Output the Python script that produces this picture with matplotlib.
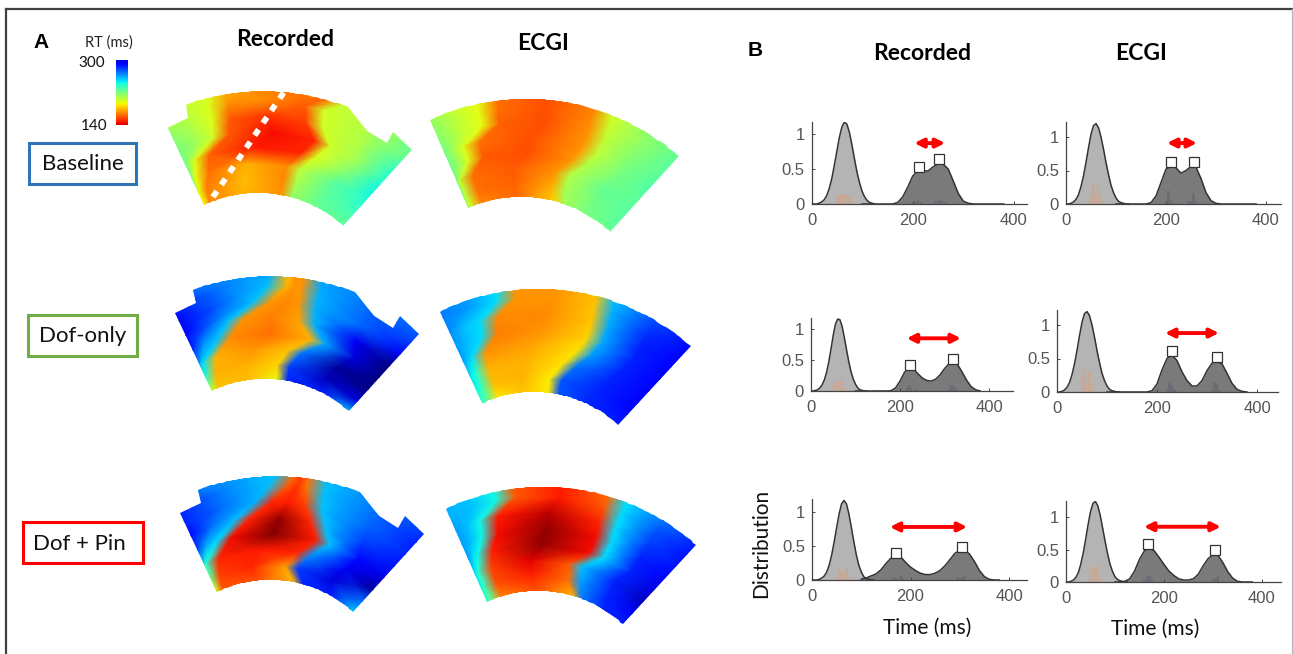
import numpy as np
import matplotlib
matplotlib.use("Agg")
import matplotlib.pyplot as plt
from matplotlib.colors import Normalize
from matplotlib.patches import Polygon, Rectangle

W, H = 1293, 654
FONT = ["Lato", "DejaVu Sans"]
ARIAL = ["Liberation Sans", "DejaVu Sans"]

# ---------- panel A: repolarization time (ms), rows run outer -> inner.
# Per row: angle (deg) of the left and right edge of the early band, and RT at
# [left border, mid left, outside left edge, inside left edge, band centre,
#  inside right edge, outside right edge, mid right, right border]
EDGE_L_BASE_REC = [-10.5, -10.5, -10.5, -11.5, -19, -21, -24, -25]
EDGE_R_BASE_REC = [20.5, 15, 16, 20, 17, 13, 13, 13]
RT_BASE_REC = [
    [205, 205, 198, 178, 168, 165, 203, 208, 225],
    [210, 205, 198, 172, 170, 160, 200, 208, 225],
    [215, 208, 198, 160, 152, 155, 200, 208, 235],
    [220, 212, 200, 160, 145, 150, 200, 212, 240],
    [222, 210, 198, 162, 148, 150, 198, 218, 245],
    [218, 205, 195, 165, 178, 170, 205, 228, 240],
    [212, 200, 195, 168, 180, 170, 210, 228, 232],
    [205, 195, 190, 170, 178, 172, 215, 226, 225],
]
EDGE_L_BASE_ECGI = [-8.5, -8.5, -8.5, -15, -15, -20, -20, -20]
EDGE_R_BASE_ECGI = [20.5, 21, 21.5, 21, 19, 15, 15, 17]
RT_BASE_ECGI = [
    [212, 200, 196, 165, 158, 168, 200, 215, 225],
    [215, 205, 196, 165, 158, 170, 202, 215, 228],
    [218, 205, 196, 162, 158, 172, 205, 218, 228],
    [222, 210, 198, 165, 158, 172, 205, 220, 230],
    [222, 212, 198, 160, 158, 172, 208, 222, 228],
    [222, 210, 205, 165, 160, 172, 208, 225, 228],
    [220, 212, 205, 165, 162, 178, 210, 222, 228],
    [215, 205, 200, 170, 165, 185, 212, 222, 225],
]
EDGE_L_DOF_REC = [3.5, 3, -1, -9, -14, -21, -23, -24.5]
EDGE_R_DOF_REC = [12, 12, 12, 13, 18, 11, 7.5, 8]
RT_DOF_REC = [
    [268, 265, 262, 180, 172, 172, 262, 268, 272],
    [285, 270, 255, 178, 172, 172, 258, 272, 280],
    [292, 275, 255, 172, 170, 172, 258, 272, 295],
    [292, 275, 255, 172, 168, 175, 258, 295, 315],
    [285, 262, 255, 170, 165, 178, 260, 300, 315],
    [265, 255, 250, 178, 172, 182, 270, 310, 315],
    [240, 235, 240, 178, 178, 185, 280, 305, 300],
    [200, 198, 195, 182, 180, 195, 285, 285, 252],
]
EDGE_L_DOF_ECGI = [-7, -7.5, -13, -14, -19, -19.5, -19.5, -19.5]
EDGE_R_DOF_ECGI = [18, 18.5, 19, 19, 17, 13, 9, 9]
RT_DOF_ECGI = [
    [268, 262, 250, 172, 172, 180, 255, 275, 290],
    [268, 262, 250, 172, 172, 182, 258, 282, 292],
    [265, 255, 250, 170, 170, 182, 260, 285, 292],
    [262, 255, 250, 168, 172, 185, 260, 285, 292],
    [262, 255, 250, 172, 175, 188, 262, 285, 292],
    [250, 245, 240, 178, 178, 188, 270, 285, 292],
    [245, 240, 235, 180, 178, 190, 275, 285, 290],
    [235, 230, 225, 190, 182, 190, 275, 285, 285],
]
EDGE_L_PIN_REC = [4.5, 2, -2, -9, -16, -22, -24, -25]
EDGE_R_PIN_REC = [12, 12, 12.5, 15, 18, 13, 9, 14]
RT_PIN_REC = [
    [262, 262, 255, 165, 155, 165, 255, 268, 280],
    [285, 268, 255, 160, 152, 165, 255, 270, 285],
    [285, 272, 258, 150, 148, 155, 255, 272, 285],
    [290, 270, 255, 150, 128, 150, 255, 280, 288],
    [280, 258, 250, 145, 125, 148, 255, 290, 298],
    [250, 240, 240, 150, 148, 150, 265, 295, 310],
    [220, 215, 225, 155, 150, 175, 280, 300, 270],
    [195, 190, 190, 160, 160, 180, 285, 285, 250],
]
EDGE_L_PIN_ECGI = [-9, -8.5, -14, -15, -18, -20, -20, -19.5]
EDGE_R_PIN_ECGI = [20, 20, 20, 20.5, 20, 14, 15, 19]
RT_PIN_ECGI = [
    [258, 252, 245, 160, 148, 165, 250, 268, 285],
    [258, 255, 245, 160, 148, 160, 250, 275, 288],
    [262, 255, 245, 148, 135, 150, 250, 280, 288],
    [262, 255, 245, 145, 128, 145, 250, 285, 292],
    [262, 250, 245, 148, 128, 145, 250, 285, 298],
    [250, 245, 240, 155, 142, 160, 255, 285, 305],
    [245, 240, 235, 158, 150, 165, 262, 285, 295],
    [235, 230, 225, 170, 160, 180, 270, 285, 285],
]

# ---------- panel B: distributions
T_EARLY = np.arange(0, 130, 5)
T_LATE = np.arange(100, 390, 10)

EARLY_BASE_REC = [0, 0, 0, .01, .03, .06, .12, .22, .36, .55, .75, .95, 1.1, 1.17, 1.14, 1.02, .84, .64, .45, .3, .18, .1, .05, .02, .01, 0]
LATE_BASE_REC = [0, 0, 0, 0, 0, 0, 0, .02, .1, .24, .4, .47, .48, .47, .53, .57, .57, .5, .33, .15, .04, .01, 0, 0, 0, 0, 0, 0, 0]
EARLY_BASE_ECGI = [0, 0, .01, .03, .07, .14, .26, .42, .62, .84, 1.04, 1.17, 1.2, 1.14, 1.0, .82, .62, .44, .28, .17, .09, .04, .02, .01, 0, 0]
LATE_BASE_ECGI = [0, 0, 0, 0, 0, 0, 0, .02, .12, .32, .52, .56, .54, .46, .5, .56, .55, .38, .17, .05, .01, 0, 0, 0, 0, 0, 0, 0, 0]
EARLY_DOF_REC = [0, 0, .01, .02, .05, .1, .18, .3, .47, .68, .9, 1.08, 1.16, 1.15, 1.04, .86, .66, .47, .31, .19, .11, .05, .02, .01, 0, 0]
LATE_DOF_REC = [0, 0, 0, 0, 0, 0, 0, 0, .005, .05, .16, .3, .37, .36, .28, .21, .17, .16, .19, .26, .36, .44, .46, .42, .3, .17, .07, .02, 0]
EARLY_DOF_ECGI = [0, 0, .01, .03, .07, .14, .26, .42, .62, .84, 1.04, 1.17, 1.2, 1.14, 1.0, .82, .62, .44, .28, .17, .09, .04, .02, .01, 0, 0]
LATE_DOF_ECGI = [0, 0, 0, 0, 0, 0, 0, 0, 0, .02, .12, .33, .5, .55, .47, .3, .17, .09, .09, .17, .32, .43, .46, .42, .28, .13, .04, .01, 0]
EARLY_PIN_REC = [0, 0, 0, .01, .03, .06, .12, .22, .37, .56, .77, .97, 1.12, 1.17, 1.12, .97, .77, .56, .37, .22, .12, .05, .02, .01, 0, 0]
LATE_PIN_REC = [.01, .03, .06, .09, .15, .24, .32, .35, .34, .26, .19, .14, .1, .08, .08, .1, .14, .21, .3, .39, .44, .44, .38, .27, .14, .05, .01, 0, 0]
EARLY_PIN_ECGI = [0, 0, .01, .03, .07, .14, .27, .44, .65, .88, 1.08, 1.21, 1.24, 1.17, 1.02, .82, .62, .43, .27, .16, .08, .04, .02, .01, 0, 0]
LATE_PIN_ECGI = [0, 0, .01, .05, .17, .35, .48, .52, .48, .38, .27, .17, .1, .05, .03, .03, .05, .12, .25, .36, .42, .41, .3, .16, .06, .01, 0, 0, 0]

BAR_T_EARLY = [50, 55, 60, 65, 70, 75, 80]
BARS_BASE_REC = [.1, .13, .15, .15, .14, .1, .04]
BARS_BASE_ECGI = [.14, .32, .12, .25, .1, .05, 0]
BARS_DOF_REC = [.1, .14, .16, .14, .18, .05, .02]
BARS_DOF_ECGI = [.22, .33, .1, .3, .12, .03, 0]
BARS_PIN_REC = [.05, .17, .13, .1, .19, .05, .01]
BARS_PIN_ECGI = [.18, .26, .22, .28, .05, 0, 0]

LBAR_T_BASE_REC = [200, 205, 210, 215, 245, 250, 255, 260, 265]
LBAR_V_BASE_REC = [.03, .05, .07, .03, .04, .05, .06, .05, .03]
LBAR_T_BASE_ECGI = [200, 205, 210, 215, 245, 250, 255, 260]
LBAR_V_BASE_ECGI = [.03, .2, .06, .02, .05, .04, .16, .05]
LBAR_T_DOF_REC = [215, 220, 225, 235, 310, 315, 320, 325]
LBAR_V_DOF_REC = [.05, .1, .05, .04, .04, .1, .08, .05]
LBAR_T_DOF_ECGI = [220, 225, 230, 235, 310, 315, 320, 325]
LBAR_V_DOF_ECGI = [.04, .14, .1, .05, .03, .15, .12, .03]
LBAR_T_PIN_REC = [165, 170, 180, 185, 295, 300, 305, 310]
LBAR_V_PIN_REC = [.05, .03, .06, .03, .05, .03, .05, .06]
LBAR_T_PIN_ECGI = [160, 165, 170, 175, 300, 305, 310]
LBAR_V_PIN_ECGI = [.04, .11, .1, .04, .04, .06, .1]

MARK_T_BASE_REC, MARK_V_BASE_REC = [212, 252], [.53, .64]
MARK_T_BASE_ECGI, MARK_V_BASE_ECGI = [210, 256], [.63, .63]
MARK_T_DOF_REC, MARK_V_DOF_REC = [222, 319], [.42, .52]
MARK_T_DOF_ECGI, MARK_V_DOF_ECGI = [230, 320], [.61, .52]
MARK_T_PIN_REC, MARK_V_PIN_REC = [170, 305], [.40, .485]
MARK_T_PIN_ECGI, MARK_V_PIN_ECGI = [168, 304], [.58, .49]

XTICKS = [0, 200, 400]
YTICKS = [0, 0.5, 1]
YTICKLABELS = ["0", "0.5", "1"]

# ---------- map outline of the recorded maps (deg, px radius)
REC_OUTLINE_T = [-25.3, -19.0, -18.6, 23.0, 30.0, 36.0, 35.7, 42.2]
REC_OUTLINE_R = [212, 213.5, 227, 231, 218, 219, 232, 230]

fig = plt.figure(figsize=(W / 100, H / 100), dpi=100)
bg = fig.add_axes([0, 0, 1, 1])
bg.set_xlim(0, W)
bg.set_ylim(H, 0)
bg.axis("off")

cmap = plt.get_cmap("jet_r")
norm = Normalize(125, 315)
EDGE_HALF = 2.5


def draw_map(values, edge_l, edge_r, cx, cy, t0, t1, r0, r1, recorded):
    vals = np.array(values, float)
    nr, nc = vals.shape
    rr = np.linspace(r1 + 4, r0 - 2, nr)
    TH = np.zeros_like(vals)
    for i in range(nr):
        L, Rt = edge_l[i], edge_r[i]
        out_l = max(L - EDGE_HALF, t0 + 0.2)
        out_r = Rt + EDGE_HALF
        TH[i] = [t0, (t0 + out_l) / 2, out_l, L + EDGE_HALF, (L + Rt) / 2, Rt - EDGE_HALF,
                 out_r, (out_r + t1) / 2, t1]
    RR = np.repeat(rr[:, None], nc, axis=1)
    T = np.radians(TH)
    X = cx + RR * np.sin(T)
    Y = cy - RR * np.cos(T)
    mesh = bg.pcolormesh(X, Y, vals, cmap=cmap, norm=norm, shading="gouraud")
    arc = np.linspace(t0, t1, 80)
    if recorded:
        dr = r1 - 231
        ot = list(REC_OUTLINE_T[:3])
        orr = [q + dr for q in REC_OUTLINE_R[:3]]
        span = np.linspace(REC_OUTLINE_T[2], REC_OUTLINE_T[3], 60)[1:]
        ot += list(span)
        orr += list(np.interp(span, REC_OUTLINE_T[2:4], REC_OUTLINE_R[2:4]) + dr)
        ot += REC_OUTLINE_T[4:]
        orr += [q + dr for q in REC_OUTLINE_R[4:]]
    else:
        ot = list(arc)
        orr = list(np.interp(arc, [t0, t1], [r1 - 5, r1 + 1]))
    ot = np.radians(np.r_[ot, arc[::-1]])
    orr = np.r_[orr, np.full(arc.size, r0)]
    poly = Polygon(np.c_[cx + orr * np.sin(ot), cy - orr * np.cos(ot)],
                   closed=True, fc="none", ec="none", transform=bg.transData)
    bg.add_patch(poly)
    mesh.set_clip_path(poly)


draw_map(RT_BASE_REC, EDGE_L_BASE_REC, EDGE_R_BASE_REC, 258, 320, -25, 42, 127, 231, True)
draw_map(RT_BASE_ECGI, EDGE_L_BASE_ECGI, EDGE_R_BASE_ECGI, 521, 329, -23.5, 42.4, 132, 233, False)
draw_map(RT_DOF_REC, EDGE_L_DOF_REC, EDGE_R_DOF_REC, 265, 504, -25.3, 42.2, 125, 230, True)
draw_map(RT_DOF_ECGI, EDGE_L_DOF_ECGI, EDGE_R_DOF_ECGI, 534, 516, -24.7, 42.7, 124, 230, False)
draw_map(RT_PIN_REC, EDGE_L_PIN_REC, EDGE_R_PIN_REC, 270, 704, -25.5, 42.3, 124, 230, True)
draw_map(RT_PIN_ECGI, EDGE_L_PIN_ECGI, EDGE_R_PIN_ECGI, 538, 716, -24, 42.7, 125, 232, False)

# white dotted cut line on the first map
bg.plot([213, 284], [197, 92], color="white", lw=4.2, ls=(0, (1.2, 1.35)), zorder=5)

# colour bar
bar = np.linspace(300, 140, 120)[:, None]
bg.imshow(bar, cmap=cmap, norm=norm, extent=[116, 128, 125, 60], aspect="auto", zorder=3)
bg.set_xlim(0, W)
bg.set_ylim(H, 0)

# outer frame
bg.plot([6, 6], [654, 9], color="#404040", lw=1.6)
bg.plot([6, 1292], [9, 9], color="#404040", lw=1.6)
bg.plot([1292, 1292], [9, 654], color="#b5b5b5", lw=0.9)

# condition boxes
for (x0, y0, x1, y1, col, lab, tx) in [(29, 143, 136, 184, "#2E75B6", "Baseline", 82.5),
                                       (28, 315, 137, 356, "#70AD47", "Dof-only", 83),
                                       (23, 522, 143, 563, "#FF0000", "Dof + Pin", 79)]:
    bg.add_patch(Rectangle((x0, y0), x1 - x0, y1 - y0, fc="white", ec=col, lw=2.2, zorder=4))
    bg.text(tx, (y0 + y1) / 2 + 1, lab, ha="center", va="center", family=FONT,
            fontsize=16, color="#111111", zorder=5)

bg.text(41, 42, "A", ha="center", va="center", family=ARIAL, fontweight="bold", fontsize=15)
bg.text(755, 50, "B", ha="center", va="center", family=ARIAL, fontweight="bold", fontsize=15)
bg.text(109, 43, "RT (ms)", ha="center", va="center", family=FONT, fontsize=10.5, color="#222222")
bg.text(92, 63, "300", ha="center", va="center", family=FONT, fontsize=11, color="#111111")
bg.text(94, 126, "140", ha="center", va="center", family=FONT, fontsize=11, color="#111111")
for x, y, lab in [(285, 39, "Recorded"), (543, 44, "ECGI"), (922, 54, "Recorded"), (1141, 53, "ECGI")]:
    bg.text(x, y, lab, ha="center", va="center", family=FONT, fontweight="bold", fontsize=16.5)
bg.text(761, 543, "Distribution", rotation=90, ha="center", va="center", family=FONT, fontsize=15, color="#111111")
bg.text(927, 628, "Time (ms)", ha="center", va="center", family=FONT, fontsize=15, color="#111111")
bg.text(1155, 629, "Time (ms)", ha="center", va="center", family=FONT, fontsize=15, color="#111111")


def draw_panel(x0, x400, xend, y0, y1, ytop, early, late, bars, lbt, lbv, mt, mv, arrow):
    sx = (x400 - x0) / 400
    sy = y0 - y1
    ax = fig.add_axes([x0 / W, 1 - y0 / H, (xend - x0) / W, (y0 - ytop) / H])
    ax.patch.set_alpha(0)
    ax.set_xlim(0, (xend - x0) / sx)
    ax.set_ylim(0, (y0 - ytop) / sy)
    for s in ("top", "right"):
        ax.spines[s].set_visible(False)
    for s in ("left", "bottom"):
        ax.spines[s].set_color("#444444")
        ax.spines[s].set_linewidth(0.9)
    ax.fill_between(T_EARLY, early, color="#b4b4b4", lw=0, zorder=1)
    ax.fill_between(T_LATE, late, color="#7a7a7a", lw=0, zorder=1.5)
    ax.bar(BAR_T_EARLY, bars, width=5, color="#d79f80", alpha=0.5, lw=0, zorder=2)
    ax.bar(lbt, lbv, width=5, color="#66586f", alpha=0.45, lw=0, zorder=2)
    ax.plot(T_EARLY, early, color="#333333", lw=1.1, zorder=3)
    ax.plot(T_LATE, late, color="#333333", lw=1.1, zorder=3)
    ax.plot(mt, mv, ls="none", marker="s", ms=7.6, mfc="white", mec="#333333", mew=0.9, zorder=4, clip_on=False)
    ax.annotate("", xy=(arrow[0], arrow[2]), xytext=(arrow[1], arrow[2]), zorder=5, annotation_clip=False,
                arrowprops=dict(arrowstyle="<|-|>", color="#FF0000", lw=2.8, mutation_scale=13,
                                shrinkA=0, shrinkB=0))
    ax.set_xticks(XTICKS)
    ax.set_yticks(YTICKS)
    ax.set_yticklabels(YTICKLABELS)
    ax.tick_params(axis="both", direction="in", length=2.5, width=0.7, color="#444444",
                   labelcolor="#555555", labelsize=12)
    ax.tick_params(axis="x", pad=6.5)
    ax.tick_params(axis="y", pad=5)
    for t in ax.get_xticklabels() + ax.get_yticklabels():
        t.set_fontfamily(ARIAL)


draw_panel(811.5, 1014, 1027, 204, 134, 122, EARLY_BASE_REC, LATE_BASE_REC, BARS_BASE_REC,
           LBAR_T_BASE_REC, LBAR_V_BASE_REC, MARK_T_BASE_REC, MARK_V_BASE_REC, (203, 264, .87))
draw_panel(1066, 1266, 1281, 204, 137, 122, EARLY_BASE_ECGI, LATE_BASE_ECGI, BARS_BASE_ECGI,
           LBAR_T_BASE_ECGI, LBAR_V_BASE_ECGI, MARK_T_BASE_ECGI, MARK_V_BASE_ECGI, (202, 262, .91))
draw_panel(811, 989, 1013, 391, 329, 318, EARLY_DOF_REC, LATE_DOF_REC, BARS_DOF_REC,
           LBAR_T_DOF_REC, LBAR_V_DOF_REC, MARK_T_DOF_REC, MARK_V_DOF_REC, (215, 337, .85))
draw_panel(1057, 1257, 1278, 392, 325, 310, EARLY_DOF_ECGI, LATE_DOF_ECGI, BARS_DOF_ECGI,
           LBAR_T_DOF_ECGI, LBAR_V_DOF_ECGI, MARK_T_DOF_ECGI, MARK_V_DOF_ECGI, (216, 324, .88))
draw_panel(812, 1009, 1027, 580, 512, 499, EARLY_PIN_REC, LATE_PIN_REC, BARS_PIN_REC,
           LBAR_T_PIN_REC, LBAR_V_PIN_REC, MARK_T_PIN_REC, MARK_V_PIN_REC, (158, 315, .78))
draw_panel(1066, 1262, 1281, 582, 517, 501, EARLY_PIN_ECGI, LATE_PIN_ECGI, BARS_PIN_ECGI,
           LBAR_T_PIN_ECGI, LBAR_V_PIN_ECGI, MARK_T_PIN_ECGI, MARK_V_PIN_ECGI, (159, 316, .85))

fig.savefig("out.png", dpi=100, facecolor="white")
